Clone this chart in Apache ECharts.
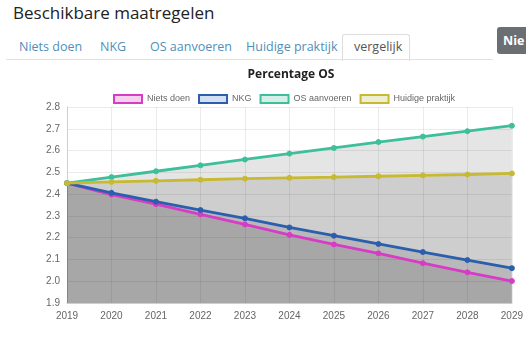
<!DOCTYPE html>
<html>
<head>
<meta charset="utf-8">
<script src="https://cdn.jsdelivr.net/npm/echarts@6/dist/echarts.min.js"></script>
<style>
  html, body { margin: 0; padding: 0; background: #fff; width: 526px; height: 343px; overflow: hidden; }
  body { position: relative; font-family: "Open Sans", "Noto Sans", sans-serif; }
  .heading { position: absolute; left: 13px; top: 1px; font-size: 17px; color: #222; font-weight: 500; }
  .tabs { position: absolute; left: 6px; top: 59px; width: 487px; border-top: 1px solid #e2e2e2; }
  .tab { position: absolute; top: 38px; font-size: 12.5px; color: #4f8fba; }
  .tab.active { color: #555; }
  .activebox { position: absolute; left: 342px; top: 34px; width: 66px; height: 26px; border: 1px solid #ddd; border-bottom: none; background: #fff; border-radius: 3px 3px 0 0; }
  .btn { position: absolute; left: 497px; top: 27px; width: 40px; height: 27px; background: #6b6f73; border-radius: 3px; color: #fff; font-weight: bold; font-size: 12.5px; line-height: 27px; padding-left: 6px; box-sizing: border-box; }
  #chart { position: absolute; left: 0; top: 60px; width: 526px; height: 283px; }
</style>
</head>
<body>
<div class="heading">Beschikbare maatregelen</div>
<div class="activebox"></div>
<div class="tabs"></div>
<div class="tab" style="left:19px">Niets doen</div>
<div class="tab" style="left:100px">NKG</div>
<div class="tab" style="left:150px">OS aanvoeren</div>
<div class="tab" style="left:246px">Huidige praktijk</div>
<div class="tab active" style="left:354px">vergelijk</div>
<div class="btn">Nie</div>
<div id="chart"></div>
<script>
// Years on the x axis
const years = ['2019', '2020', '2021', '2022', '2023', '2024', '2025', '2026', '2027', '2028', '2029'];

// Percentage OS per scenario
const nietsDoen = [2.45, 2.398, 2.354, 2.307, 2.261, 2.213, 2.169, 2.128, 2.083, 2.041, 2.001];
const nkg = [2.45, 2.406, 2.365, 2.327, 2.289, 2.247, 2.209, 2.171, 2.134, 2.097, 2.06];
const osAanvoeren = [2.45, 2.478, 2.505, 2.532, 2.559, 2.586, 2.612, 2.639, 2.664, 2.689, 2.714];
const huidigePraktijk = [2.45, 2.456, 2.461, 2.466, 2.471, 2.475, 2.478, 2.482, 2.486, 2.49, 2.495];

const seriesNames = ['Niets doen', 'NKG', 'OS aanvoeren', 'Huidige praktijk'];
const lineColors = ['#d63cc6', '#2b5fae', '#3dbf9b', '#c7b932'];
const legendFills = ['#f4d2ef', '#d3e0f2', '#d5efe8', '#eeeed2'];
const seriesData = [nietsDoen, nkg, osAanvoeren, huidigePraktijk];

const chart = echarts.init(document.getElementById('chart'), null, { renderer: 'canvas' });

// Grey shading under each scenario, kept below all lines
const areaSeries = seriesData.map((d, i) => ({
  id: 'area' + i,
  type: 'line',
  data: d,
  showSymbol: false,
  silent: true,
  lineStyle: { width: 0 },
  areaStyle: { color: 'rgba(0,0,0,0.1)', opacity: 1, origin: 'start' },
  emphasis: { disabled: true },
  z: 1
}));

const lineSeries = seriesNames.map((name, i) => ({
  name: name,
  type: 'line',
  data: seriesData[i],
  symbol: 'circle',
  symbolSize: 5,
  showSymbol: true,
  lineStyle: { color: lineColors[i], width: 2.8 },
  itemStyle: { color: lineColors[i], borderColor: lineColors[i] },
  emphasis: { disabled: true },
  z: 3 + i
}));

chart.setOption({
  animation: false,
  textStyle: { fontFamily: 'Liberation Sans, Arial, sans-serif' },
  title: {
    text: 'Percentage OS',
    left: 286,
    textAlign: 'center',
    top: 4,
    textStyle: { fontSize: 12, fontWeight: 'bold', color: '#222', fontFamily: 'Open Sans, sans-serif' }
  },
  legend: {
    top: 29,
    left: 108,
    icon: 'rect',
    itemWidth: 28,
    itemHeight: 8,
    itemGap: 8,
    textStyle: { fontSize: 9, color: '#666' },
    data: seriesNames.map((n, i) => ({
      name: n,
      itemStyle: { color: legendFills[i], borderColor: lineColors[i], borderWidth: 2 }
    }))
  },
  grid: { left: 67, right: 14, top: 47, bottom: 40 },
  xAxis: {
    type: 'category',
    data: years,
    boundaryGap: false,
    axisLine: { lineStyle: { color: '#cfcfcf' } },
    axisTick: { show: false },
    axisLabel: { color: '#666', fontSize: 10, margin: 8 },
    splitLine: { show: true, lineStyle: { color: 'rgba(0,0,0,0.08)' } }
  },
  yAxis: {
    type: 'value',
    min: 1.9,
    max: 2.8,
    interval: 0.1,
    axisLine: { show: true, lineStyle: { color: '#cfcfcf' } },
    axisTick: { show: false },
    axisLabel: { color: '#666', fontSize: 10, margin: 7, formatter: v => v.toFixed(1) },
    splitLine: { show: true, lineStyle: { color: 'rgba(0,0,0,0.08)' } }
  },
  series: areaSeries.concat(lineSeries)
});
</script>
</body>
</html>
